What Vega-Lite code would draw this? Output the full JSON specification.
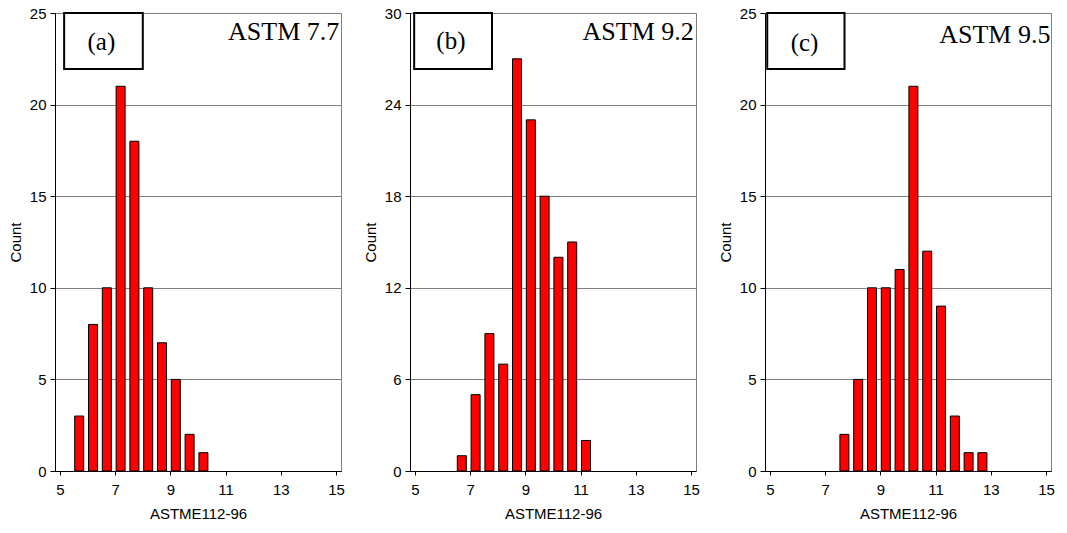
{
  "$schema": "https://vega.github.io/schema/vega-lite/v6.json",
  "background": "white",
  "padding": {"left": 7, "top": 5, "right": 2, "bottom": 2},
  "datasets": {
    "counts": [
      {"panel": "a", "grain": 5.75, "count": 3},
      {"panel": "a", "grain": 6.25, "count": 8},
      {"panel": "a", "grain": 6.75, "count": 10},
      {"panel": "a", "grain": 7.25, "count": 21},
      {"panel": "a", "grain": 7.75, "count": 18},
      {"panel": "a", "grain": 8.25, "count": 10},
      {"panel": "a", "grain": 8.75, "count": 7},
      {"panel": "a", "grain": 9.25, "count": 5},
      {"panel": "a", "grain": 9.75, "count": 2},
      {"panel": "a", "grain": 10.25, "count": 1},
      {"panel": "b", "grain": 6.75, "count": 1},
      {"panel": "b", "grain": 7.25, "count": 5},
      {"panel": "b", "grain": 7.75, "count": 9},
      {"panel": "b", "grain": 8.25, "count": 7},
      {"panel": "b", "grain": 8.75, "count": 27},
      {"panel": "b", "grain": 9.25, "count": 23},
      {"panel": "b", "grain": 9.75, "count": 18},
      {"panel": "b", "grain": 10.25, "count": 14},
      {"panel": "b", "grain": 10.75, "count": 15},
      {"panel": "b", "grain": 11.25, "count": 2},
      {"panel": "c", "grain": 7.75, "count": 2},
      {"panel": "c", "grain": 8.25, "count": 5},
      {"panel": "c", "grain": 8.75, "count": 10},
      {"panel": "c", "grain": 9.25, "count": 10},
      {"panel": "c", "grain": 9.75, "count": 11},
      {"panel": "c", "grain": 10.25, "count": 21},
      {"panel": "c", "grain": 10.75, "count": 12},
      {"panel": "c", "grain": 11.25, "count": 9},
      {"panel": "c", "grain": 11.75, "count": 3},
      {"panel": "c", "grain": 12.25, "count": 1},
      {"panel": "c", "grain": 12.75, "count": 1}
    ],
    "labels": [
      {"panel": "a", "tag": "(a)", "grade": "ASTM 7.7"},
      {"panel": "b", "tag": "(b)", "grade": "ASTM 9.2"},
      {"panel": "c", "tag": "(c)", "grade": "ASTM 9.5"}
    ]
  },
  "bounds": "flush",
  "spacing": 69,
  "hconcat": [
    {
      "width": 286, "height": 458,
      "layer": [
        {
          "data": {"name": "counts"},
          "transform": [{"filter": "datum.panel === 'a'"}],
          "mark": {"type": "bar", "width": 9, "xOffset": -1.5, "fill": "#ff0000", "stroke": "black", "strokeWidth": 1},
          "encoding": {
            "x": {"field": "grain", "type": "quantitative", "scale": {"domain": [5, 15], "nice": false, "zero": false},
              "axis": {"title": "ASTME112-96", "values": [5,5.5,6,6.5,7,7.5,8,8.5,9,9.5,10,10.5,11,11.5,12,12.5,13,13.5,14,14.5,15], "labelExpr": "datum.value % 2 == 1 ? datum.label : ''", "labelOverlap": false, "labelFlush": false, "grid": false, "tickSize": 4, "labelPadding": 7, "titlePadding": 9}},
            "y": {"field": "count", "type": "quantitative", "scale": {"domain": [0, 25], "nice": false},
              "axis": {"title": "Count", "values": [0,5,10,15,20,25], "grid": true, "labelPadding": 4, "titlePadding": 6}}
          }
        },
        {
          "data": {"name": "labels"},
          "transform": [{"filter": "datum.panel === 'a'"}],
          "mark": {"type": "rect", "fill": "white", "stroke": "black", "strokeWidth": 2},
          "encoding": {
            "x": {"datum": 5.15, "type": "quantitative"}, "x2": {"datum": 8.0},
            "y": {"datum": 25, "type": "quantitative"}, "y2": {"datum": 21.95}
          }
        },
        {
          "data": {"name": "labels"},
          "transform": [{"filter": "datum.panel === 'a'"}],
          "mark": {"type": "text", "font": "Liberation Serif", "fontSize": 25, "align": "center", "baseline": "middle", "color": "black"},
          "encoding": {
            "x": {"datum": 6.5, "type": "quantitative"},
            "y": {"datum": 23.4, "type": "quantitative"},
            "text": {"field": "tag"}
          }
        },
        {
          "data": {"name": "labels"},
          "transform": [{"filter": "datum.panel === 'a'"}],
          "mark": {"type": "text", "font": "Liberation Serif", "fontSize": 26, "align": "right", "baseline": "alphabetic", "color": "black"},
          "encoding": {
            "x": {"datum": 15.12, "type": "quantitative"},
            "y": {"datum": 23.5, "type": "quantitative"},
            "text": {"field": "grade"}
          }
        }
      ]
    },
    {
      "width": 286, "height": 458,
      "layer": [
        {
          "data": {"name": "counts"},
          "transform": [{"filter": "datum.panel === 'b'"}],
          "mark": {"type": "bar", "width": 9, "xOffset": -1.5, "fill": "#ff0000", "stroke": "black", "strokeWidth": 1},
          "encoding": {
            "x": {"field": "grain", "type": "quantitative", "scale": {"domain": [5, 15], "nice": false, "zero": false},
              "axis": {"title": "ASTME112-96", "values": [5,5.5,6,6.5,7,7.5,8,8.5,9,9.5,10,10.5,11,11.5,12,12.5,13,13.5,14,14.5,15], "labelExpr": "datum.value % 2 == 1 ? datum.label : ''", "labelOverlap": false, "labelFlush": false, "grid": false, "tickSize": 4, "labelPadding": 7, "titlePadding": 9}},
            "y": {"field": "count", "type": "quantitative", "scale": {"domain": [0, 30], "nice": false},
              "axis": {"title": "Count", "values": [0,6,12,18,24,30], "grid": true, "labelPadding": 4, "titlePadding": 6}}
          }
        },
        {
          "data": {"name": "labels"},
          "transform": [{"filter": "datum.panel === 'b'"}],
          "mark": {"type": "rect", "fill": "white", "stroke": "black", "strokeWidth": 2},
          "encoding": {
            "x": {"datum": 4.97, "type": "quantitative"}, "x2": {"datum": 7.79},
            "y": {"datum": 30, "type": "quantitative"}, "y2": {"datum": 26.33}
          }
        },
        {
          "data": {"name": "labels"},
          "transform": [{"filter": "datum.panel === 'b'"}],
          "mark": {"type": "text", "font": "Liberation Serif", "fontSize": 25, "align": "center", "baseline": "middle", "color": "black"},
          "encoding": {
            "x": {"datum": 6.3, "type": "quantitative"},
            "y": {"datum": 28.15, "type": "quantitative"},
            "text": {"field": "tag"}
          }
        },
        {
          "data": {"name": "labels"},
          "transform": [{"filter": "datum.panel === 'b'"}],
          "mark": {"type": "text", "font": "Liberation Serif", "fontSize": 26, "align": "right", "baseline": "alphabetic", "color": "black"},
          "encoding": {
            "x": {"datum": 15.1, "type": "quantitative"},
            "y": {"datum": 28.25, "type": "quantitative"},
            "text": {"field": "grade"}
          }
        }
      ]
    },
    {
      "width": 286, "height": 458,
      "layer": [
        {
          "data": {"name": "counts"},
          "transform": [{"filter": "datum.panel === 'c'"}],
          "mark": {"type": "bar", "width": 9, "xOffset": -1.5, "fill": "#ff0000", "stroke": "black", "strokeWidth": 1},
          "encoding": {
            "x": {"field": "grain", "type": "quantitative", "scale": {"domain": [5, 15], "nice": false, "zero": false},
              "axis": {"title": "ASTME112-96", "values": [5,5.5,6,6.5,7,7.5,8,8.5,9,9.5,10,10.5,11,11.5,12,12.5,13,13.5,14,14.5,15], "labelExpr": "datum.value % 2 == 1 ? datum.label : ''", "labelOverlap": false, "labelFlush": false, "grid": false, "tickSize": 4, "labelPadding": 7, "titlePadding": 9}},
            "y": {"field": "count", "type": "quantitative", "scale": {"domain": [0, 25], "nice": false},
              "axis": {"title": "Count", "values": [0,5,10,15,20,25], "grid": true, "labelPadding": 4, "titlePadding": 6}}
          }
        },
        {
          "data": {"name": "labels"},
          "transform": [{"filter": "datum.panel === 'c'"}],
          "mark": {"type": "rect", "fill": "white", "stroke": "black", "strokeWidth": 2},
          "encoding": {
            "x": {"datum": 4.9, "type": "quantitative"}, "x2": {"datum": 7.7},
            "y": {"datum": 25, "type": "quantitative"}, "y2": {"datum": 21.95}
          }
        },
        {
          "data": {"name": "labels"},
          "transform": [{"filter": "datum.panel === 'c'"}],
          "mark": {"type": "text", "font": "Liberation Serif", "fontSize": 25, "align": "center", "baseline": "middle", "color": "black"},
          "encoding": {
            "x": {"datum": 6.25, "type": "quantitative"},
            "y": {"datum": 23.35, "type": "quantitative"},
            "text": {"field": "tag"}
          }
        },
        {
          "data": {"name": "labels"},
          "transform": [{"filter": "datum.panel === 'c'"}],
          "mark": {"type": "text", "font": "Liberation Serif", "fontSize": 26, "align": "right", "baseline": "alphabetic", "color": "black"},
          "encoding": {
            "x": {"datum": 15.16, "type": "quantitative"},
            "y": {"datum": 23.36, "type": "quantitative"},
            "text": {"field": "grade"}
          }
        }
      ]
    }
  ],
  "config": {
    "view": {"stroke": "#808080", "strokeWidth": 1},
    "axis": {
      "domainColor": "black", "tickColor": "black", "labelColor": "black", "titleColor": "black",
      "labelFont": "Liberation Sans", "titleFont": "Liberation Sans",
      "labelFontSize": 15, "titleFontSize": 15, "titleFontWeight": "normal",
      "gridColor": "#808080", "gridWidth": 1, "tickSize": 5
    }
  }
}
